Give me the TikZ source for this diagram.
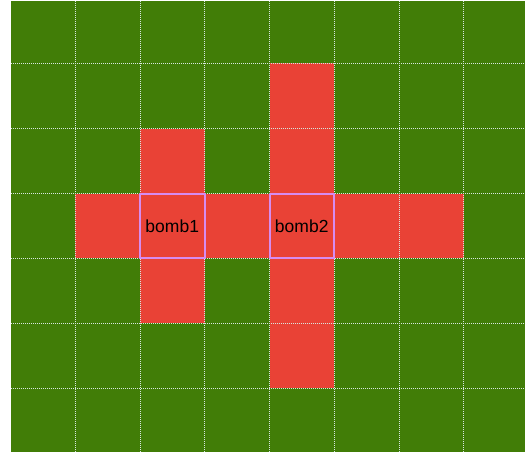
\documentclass[tikz,border=0pt]{standalone}
\usepackage{fontspec}
\setmainfont{Liberation Sans}
\definecolor{grass}{RGB}{65,125,7}
\definecolor{fire}{RGB}{233,66,54}
\definecolor{rim}{RGB}{214,140,240}
\definecolor{gridc}{RGB}{215,230,225}
\begin{document}
\begin{tikzpicture}[x=1pt,y=-1pt,
  gridline/.style={gridc, line width=0.9pt, dash pattern=on 1pt off 1pt},
  bombbox/.style={draw=rim, line width=2pt, minimum width=64.5pt, minimum height=64.5pt, inner sep=0pt, font=\fontsize{17.5}{19}\selectfont, text=black}]
\useasboundingbox (0,0) rectangle (525,452);
\fill[grass] (11,1) rectangle (525,452);
\fill[fire] (75,193.5) rectangle (463.5,258);
\fill[fire] (140,128.5) rectangle (204.5,323);
\fill[fire] (269.5,63.5) rectangle (334,388);
\foreach \x in {75,140,204.5,269.5,334,399,463.5} \draw[gridline] (\x,1) -- (\x,452);
\foreach \y in {63.5,128.5,193.5,258,323,388} \draw[gridline] (11,\y) -- (525,\y);
\node[bombbox] (bomb1) at (172.25,225.75) {bomb1};
\node[bombbox] (bomb2) at (301.75,225.75) {bomb2};
\end{tikzpicture}
\end{document}
